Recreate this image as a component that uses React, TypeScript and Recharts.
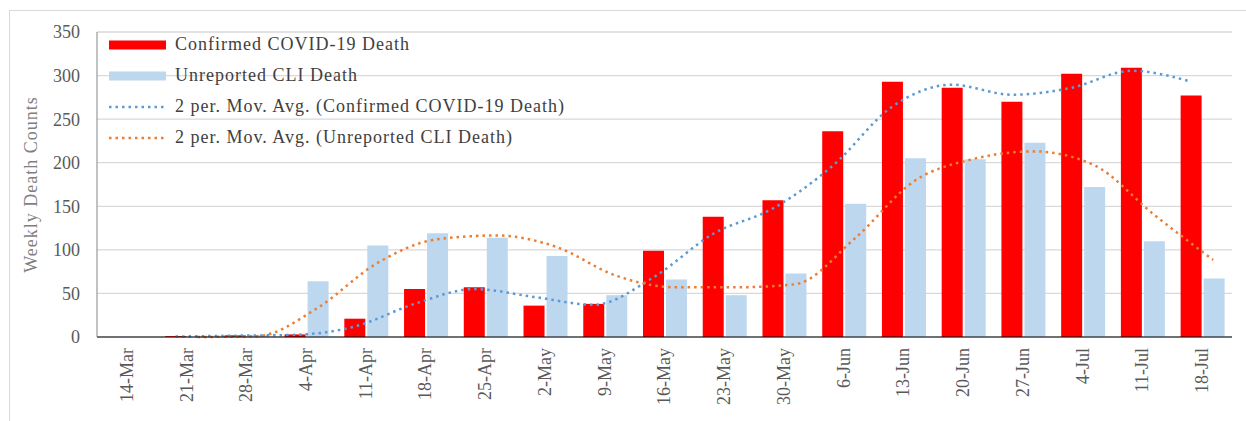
import { ComposedChart, Bar, Line, XAxis, YAxis, CartesianGrid } from "recharts";

const weeks = ["14-Mar", "21-Mar", "28-Mar", "4-Apr", "11-Apr", "18-Apr", "25-Apr", "2-May", "9-May", "16-May", "23-May", "30-May", "6-Jun", "13-Jun", "20-Jun", "27-Jun", "4-Jul", "11-Jul", "18-Jul"];
const confirmed = [0, 1, 2, 3, 21, 55, 57, 36, 38, 99, 138, 157, 236, 293, 286, 270, 302, 309, 277];
const unreported = [0, 0, 2, 64, 105, 119, 114, 93, 48, 66, 48, 73, 153, 205, 204, 223, 172, 110, 67];
// 2 period moving averages
const confirmedAvg = [null, 0.5, 1.5, 2.5, 12, 38, 55, 46, 37, 68.5, 118.5, 147.5, 196.5, 264.5, 289.5, 278, 286, 305.5, 293];
const unreportedAvg = [null, 0, 1, 33, 84.5, 112, 116.5, 103.5, 70.5, 57, 57, 60.5, 113, 179, 204.5, 213, 197.5, 141, 88.5];
const yTicks = [0, 50, 100, 150, 200, 250, 300, 350];

const data = weeks.map((week, i) => ({
  week,
  confirmed: confirmed[i],
  unreported: unreported[i],
  confirmedAvg: confirmedAvg[i],
  unreportedAvg: unreportedAvg[i],
}));

const FONT = "'Liberation Serif', 'Times New Roman', serif";
const RED = "#ff0000";
const LIGHT_BLUE = "#bdd7ee";
const BLUE = "#5b9bd5";
const ORANGE = "#ed7d31";

const XTick = ({ x, y, payload }: any) => (
  <text
    x={x}
    y={y}
    transform={`rotate(-90 ${x} ${y})`}
    textAnchor="end"
    dy="0.33em"
    fontSize={18}
    fontFamily={FONT}
    fill="#595959"
  >
    {payload.value}
  </text>
);

const YLabel = ({ viewBox }: any) => {
  const x = viewBox.x + 31;
  const y = viewBox.y + viewBox.height / 2;
  return (
    <text
      x={x}
      y={y}
      transform={`rotate(-90 ${x} ${y})`}
      textAnchor="middle"
      dy="0.33em"
      fontSize={18}
      letterSpacing={1}
      fontFamily={FONT}
      fill="#7f7f7f"
    >
      Weekly Death Counts
    </text>
  );
};

const legendItems = [
  { label: "Confirmed COVID-19 Death", color: RED, kind: "bar" },
  { label: "Unreported CLI Death", color: LIGHT_BLUE, kind: "bar" },
  { label: "2 per. Mov. Avg. (Confirmed COVID-19 Death)", color: BLUE, kind: "dot" },
  { label: "2 per. Mov. Avg. (Unreported CLI Death)", color: ORANGE, kind: "dot" },
];

function ChartLegend() {
  return (
    <div style={{ position: "absolute", left: 108, top: 29, fontFamily: FONT, fontSize: 18, letterSpacing: 1, color: "#404040" }}>
      {legendItems.map((item) => (
        <div key={item.label} style={{ display: "flex", alignItems: "center", height: 31 }}>
          <svg width={60} height={12} style={{ marginRight: 7 }}>
            {item.kind === "bar" ? (
              <rect x={1} y={1.5} width={57} height={9} fill={item.color} />
            ) : (
              <line x1={1} y1={6} x2={59} y2={6} stroke={item.color} strokeWidth={2.5} strokeDasharray="2.5 4" />
            )}
          </svg>
          <span style={{ whiteSpace: "nowrap" }}>{item.label}</span>
        </div>
      ))}
    </div>
  );
}

export default function App() {
  return (
    <div style={{ position: "absolute", left: 0, top: 0, width: 1246, height: 421, overflow: "hidden", background: "#fff" }}>
      <div style={{ position: "absolute", left: 9, top: 10, width: 1260, height: 430, border: "1.5px solid #d9d9d9" }} />
      <div style={{ position: "absolute", left: 0, top: 0 }}>
        <ComposedChart
          width={1246}
          height={421}
          data={data}
          margin={{ top: 32, right: 14, bottom: 0, left: 0 }}
          barCategoryGap="14%"
          barGap={2}
        >
          <CartesianGrid vertical={false} stroke="#d9d9d9" strokeWidth={1.3} />
          <XAxis
            dataKey="week"
            height={84}
            interval={0}
            tickSize={0}
            tickMargin={11}
            tick={<XTick />}
            axisLine={{ stroke: "#000", strokeWidth: 1.2 }}
            tickLine={false}
          />
          {/* trendlines sit on the centre of their own bar, not the category centre */}
          <XAxis xAxisId="conf" dataKey="week" hide padding={{ left: -11, right: 11 }} />
          <XAxis xAxisId="unrep" dataKey="week" hide padding={{ left: 11, right: -11 }} />
          <YAxis
            width={97}
            domain={[0, 350]}
            ticks={yTicks}
            interval={0}
            tickSize={0}
            tickMargin={17}
            tickLine={false}
            axisLine={{ stroke: "#868686", strokeWidth: 1 }}
            tick={{ fontSize: 18, fontFamily: FONT, fill: "#595959" }}
            label={<YLabel />}
          />
          <Bar dataKey="confirmed" fill={RED} isAnimationActive={false} />
          <Bar dataKey="unreported" fill={LIGHT_BLUE} isAnimationActive={false} />
          <Line
            xAxisId="conf"
            type="monotone"
            dataKey="confirmedAvg"
            stroke={BLUE}
            strokeWidth={2.5}
            strokeDasharray="2.5 4"
            dot={false}
            isAnimationActive={false}
          />
          <Line
            xAxisId="unrep"
            type="monotone"
            dataKey="unreportedAvg"
            stroke={ORANGE}
            strokeWidth={2.5}
            strokeDasharray="2.5 4"
            dot={false}
            isAnimationActive={false}
          />
        </ComposedChart>
      </div>
      <ChartLegend />
    </div>
  );
}
